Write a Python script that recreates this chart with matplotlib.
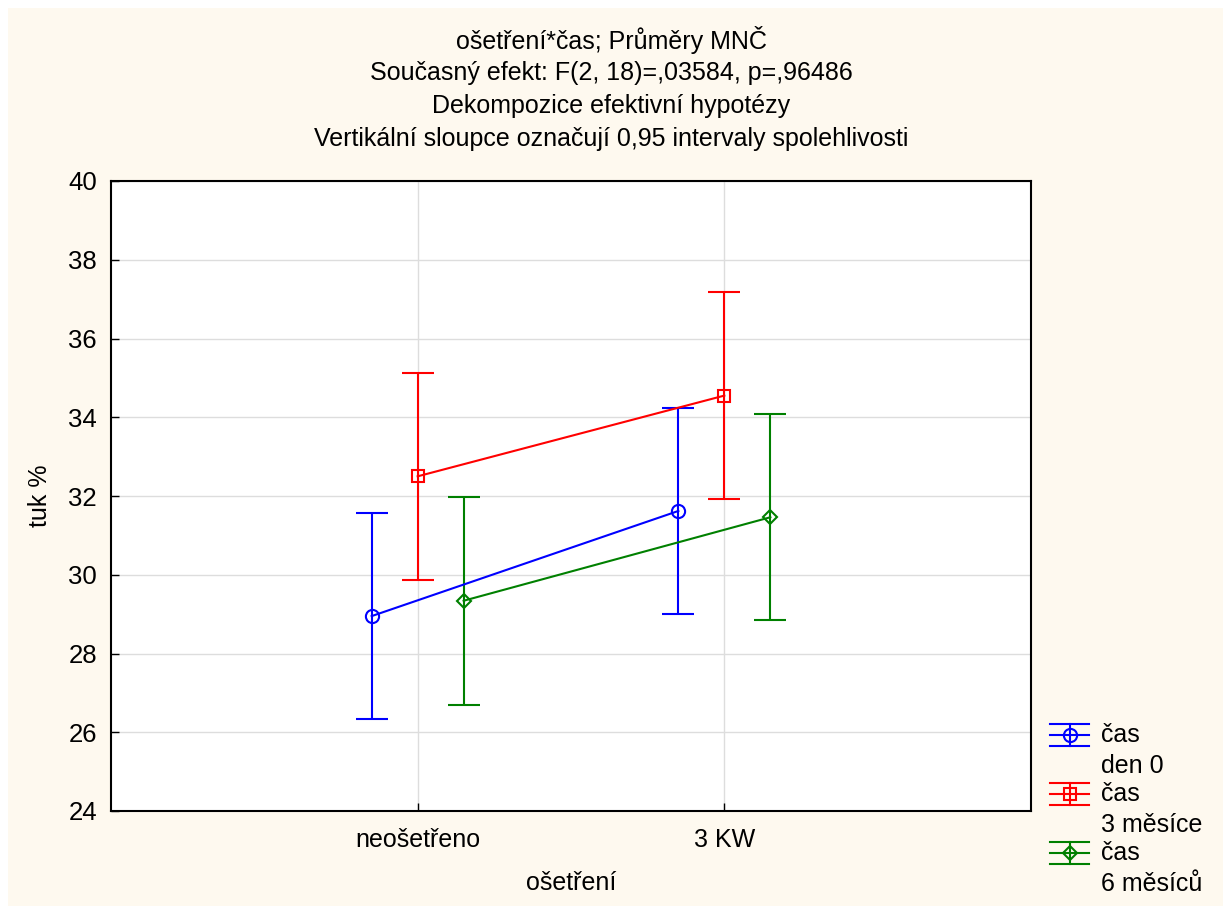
import matplotlib
matplotlib.use("Agg")
import matplotlib.pyplot as plt
from matplotlib.lines import Line2D
from matplotlib.patches import Rectangle
import numpy as np

plt.rcParams['font.family'] = ['Liberation Sans', 'DejaVu Sans']

# ---- data ----
categories = ["neošetřeno", "3 KW"]
series_names = ["čas\nden 0", "čas\n3 měsíce", "čas\n6 měsíců"]
means_den0 = [28.95, 31.62]
means_3m = [32.50, 34.55]
means_6m = [29.34, 31.46]
ci_den0 = [2.62, 2.62]
ci_3m = [2.63, 2.62]
ci_6m = [2.64, 2.62]
yticks = [24, 26, 28, 30, 32, 34, 36, 38, 40]
title_lines = ["ošetření*čas; Průměry MNČ",
               "Současný efekt: F(2, 18)=,03584, p=,96486",
               "Dekompozice efektivní hypotézy",
               "Vertikální sloupce označují 0,95 intervaly spolehlivosti"]

colors = ["#0000ff", "#ff0000", "#008000"]
markers = ["o", "s", "D"]
msizes = [9.5, 9, 7.5]
offsets = [-0.15, 0.0, 0.15]
FS = 18

W, H = 1223, 906
fig = plt.figure(figsize=(W / 100, H / 100), dpi=100, facecolor="white")
fig.add_artist(Rectangle((8 / W, 0), 1 - 8 / W, 1 - 8 / H, transform=fig.transFigure,
                         facecolor="#fef9ef", edgecolor="none", zorder=-10))

ax = fig.add_axes([111 / W, (H - 811) / H, (1031 - 111) / W, (811 - 181) / H])
ax.set_facecolor("white")

x = np.arange(1, len(categories) + 1)
all_means = [means_den0, means_3m, means_6m]
all_ci = [ci_den0, ci_3m, ci_6m]
for i in range(3):
    xs = x + offsets[i]
    ax.errorbar(xs, all_means[i], yerr=all_ci[i], color=colors[i], lw=1.5,
                elinewidth=1.5, capsize=11.5, capthick=1.5, marker=markers[i],
                markersize=msizes[i], markerfacecolor="none", markeredgewidth=1.5,
                zorder=3)

ax.set_xlim(0, 3)
ax.set_ylim(24, 40)
ax.set_xticks(x)
ax.set_xticklabels(categories, fontsize=FS)
ax.set_yticks(yticks)
ax.set_yticklabels([str(v) for v in yticks], fontsize=FS + 0.5)
ax.tick_params(direction="in", length=6, width=1, colors="black")
ax.tick_params(axis="y", pad=10)
ax.tick_params(axis="x", pad=12)
ax.grid(True, color="#dddddd", lw=1, zorder=0)
ax.set_axisbelow(True)
for s in ax.spines.values():
    s.set_linewidth(1.5)
ax.set_xlabel("ošetření", fontsize=FS)
ax.set_ylabel("tuk %", fontsize=FS)
ax.xaxis.set_label_coords(0.5, -(883 - 811) / (811 - 181), transform=ax.transAxes)
ax.xaxis.label.set_va("center")
ax.yaxis.set_label_coords(-(111 - 40) / (1031 - 111), 0.5, transform=ax.transAxes)
ax.yaxis.label.set_va("center")

title_y = [40, 73, 106, 139]
for k, t in enumerate(title_lines):
    fig.text(0.5, 1 - title_y[k] / H, t, ha="center", va="center", fontsize=FS)

# ---- legend (manual, in pixel coordinates) ----
def px(xp, yp):
    return xp / W, 1 - yp / H

for i in range(3):
    yc = 735 + 59 * i
    x0, x1, xc = 1050, 1089, 1069.5
    for dy in (-11, 0, 11):
        (a, b), (c, d) = px(x0, yc + dy), px(x1, yc + dy)
        fig.add_artist(Line2D([a, c], [b, d], transform=fig.transFigure,
                              color=colors[i], lw=1.5))
    (a, b), (c, d) = px(xc, yc - 11), px(xc, yc + 11)
    fig.add_artist(Line2D([a, c], [b, d], transform=fig.transFigure,
                          color=colors[i], lw=1.5))
    (a, b) = px(xc, yc)
    fig.add_artist(Line2D([a], [b], transform=fig.transFigure, color=colors[i],
                          marker=markers[i], markersize=msizes[i],
                          markerfacecolor="none", markeredgewidth=1.5))
    lines = series_names[i].split("\n")
    for j, ln in enumerate(lines):
        tx, ty = px(1101, yc + 31 * j)
        fig.text(tx, ty, ln, ha="left", va="center", fontsize=FS)

fig.savefig("out.png", dpi=100, facecolor="white")
